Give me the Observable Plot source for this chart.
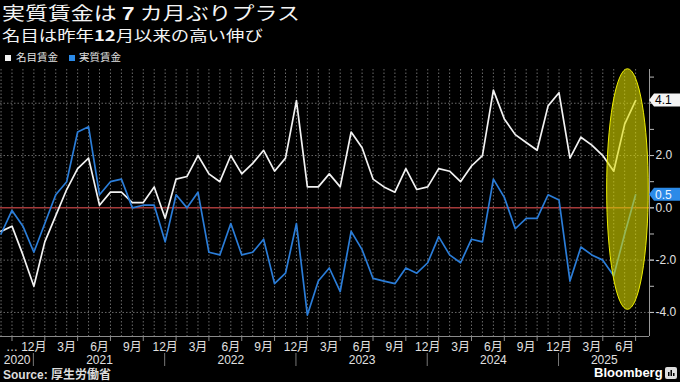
<!DOCTYPE html>
<html><head><meta charset="utf-8">
<script src="https://cdn.jsdelivr.net/npm/d3@7"></script>
<script src="https://cdn.jsdelivr.net/npm/@observablehq/plot@0.6"></script>
<style>
html,body{margin:0;padding:0;background:#000;}
#wrap{position:relative;width:680px;height:382px;overflow:hidden;background:#000;font-family:"Noto Sans CJK JP","Noto Sans",sans-serif;}
.title{position:absolute;left:2px;top:1px;font-size:18.5px;line-height:22px;transform:scaleX(1.24);transform-origin:0 0;white-space:nowrap;color:#f4f4f4;}
.title b{font-family:"Liberation Sans","Noto Sans CJK JP",sans-serif;font-weight:bold;}
.sub{position:absolute;left:2px;top:26px;font-size:14.6px;line-height:18px;transform:scaleX(1.26);transform-origin:0 0;white-space:nowrap;color:#f4f4f4;}
.sub b{font-weight:bold;}
.lg{position:absolute;top:51px;font-size:10.5px;line-height:12px;white-space:nowrap;color:#e0e0e0;}
.sw{position:absolute;top:55px;width:6px;height:6px;}
#chart{position:absolute;left:0;top:64px;}
.src{position:absolute;left:3px;top:368px;font-size:12px;line-height:14px;font-weight:bold;color:#dcdcdc;font-family:"Liberation Sans","Noto Sans CJK JP",sans-serif;white-space:nowrap;}
.bb{position:absolute;left:594px;top:366px;font-size:13px;line-height:14px;font-weight:bold;color:#fff;font-family:"Liberation Sans",Arial,sans-serif;}
.icon{position:absolute;left:665px;top:367px;display:block;}
</style>
</head><body>
<div id="wrap">
  <div class="title">実質賃金は <b>7</b> カ月ぶりプラス</div>
  <div class="sub">名目は昨年<b>12</b>月以来の高い伸び</div>
  <div class="sw" style="left:5px;background:#f2f2f2"></div>
  <div class="lg" style="left:16px">名目賃金</div>
  <div class="sw" style="left:69px;background:#2b8ae8"></div>
  <div class="lg" style="left:79px">実質賃金</div>
  <div id="chart"></div>
  <div class="src">Source: 厚生労働省</div>
  <div class="bb">Bloomberg</div>
  <svg class="icon" width="12" height="12" viewBox="0 0 12 12"><rect x="0" y="0" width="12" height="12" rx="2" fill="#ddd"/><rect x="3" y="5" width="1.5" height="4" fill="#000"/><rect x="5.5" y="3" width="1.5" height="6" fill="#000"/><rect x="8" y="6" width="1.5" height="3" fill="#000"/></svg>
</div>
<script>
// ---- data (YoY %) ----
const months = [
  "2020-09","2020-10","2020-11","2020-12",
  "2021-01","2021-02","2021-03","2021-04","2021-05","2021-06","2021-07","2021-08","2021-09","2021-10","2021-11","2021-12",
  "2022-01","2022-02","2022-03","2022-04","2022-05","2022-06","2022-07","2022-08","2022-09","2022-10","2022-11","2022-12",
  "2023-01","2023-02","2023-03","2023-04","2023-05","2023-06","2023-07","2023-08","2023-09","2023-10","2023-11","2023-12",
  "2024-01","2024-02","2024-03","2024-04","2024-05","2024-06","2024-07","2024-08","2024-09","2024-10","2024-11","2024-12",
  "2025-01","2025-02","2025-03","2025-04","2025-05","2025-06","2025-07"
];
const nominal = [
  -0.9,-0.7,-1.8,-3.0,
  -1.3,-0.3,0.7,1.5,1.9,0.1,0.6,0.6,0.2,0.2,0.8,-0.4,
  1.1,1.2,2.0,1.3,1.0,2.0,1.3,1.7,2.2,1.4,1.9,4.1,
  0.8,0.8,1.3,0.8,2.9,2.3,1.1,0.8,0.6,1.5,0.7,0.8,
  1.5,1.4,1.0,1.6,2.0,4.5,3.4,2.8,2.5,2.2,3.9,4.4,
  1.9,2.7,2.4,2.0,1.4,3.2,4.1
];
const real = [
  -1.0,-0.1,-0.7,-1.7,
  -0.6,0.5,1.0,2.9,3.1,0.5,1.0,1.1,0.0,0.1,0.1,-1.3,
  0.5,0.0,0.6,-1.7,-1.8,-0.6,-1.8,-1.7,-1.2,-2.9,-2.5,-0.6,
  -4.1,-2.8,-2.3,-3.2,-0.9,-1.6,-2.7,-2.8,-2.9,-2.3,-2.5,-2.1,
  -1.1,-1.8,-2.1,-1.2,-1.3,1.1,0.4,-0.8,-0.4,-0.4,0.5,0.3,
  -2.8,-1.5,-1.8,-2.0,-2.6,-1.0,0.5
];
const seriesNames = ["名目賃金", "実質賃金"];
const yLabelValues = [-4, -2, 0, 2];      // 4.0 is hidden behind the last-value label
const yTickValues = [-5, -4, -3, -2, -1, 0, 1, 2, 3, 4, 5];
const gridValues = [-4, -2, 2, 4];
// highlighted period (ellipse) in month-index / value units
const highlightX = [55.4, 59.2];
const highlightY = [-3.9, 5.3];

const WHITE = "#f2f2f2", BLUE = "#2b7dd8";
const data = months.map((m, i) => ({i, m, nominal: nominal[i], real: real[i]}));
const idx = data.map(d => d.i);
const xDomain = [-0.05, 59.27];
const yDomain = [-4.92, 5.29];

const monthTicks = idx.filter(i => i > 0 && i % 3 === 0);
const quarterTicks = idx.filter(i => i % 3 === 1);
const decIdx = idx.filter(i => months[i].endsWith("-12"));
const years = [...new Set(months.map(m => m.slice(0, 4)))];
const yearPos = years.map(y => {
  const first = months.findIndex(m => m.startsWith(y));
  const lastDec = months.indexOf(y + "-12");
  const left = first === 0 ? xDomain[0] : first - 1;
  const right = lastDec >= 0 ? lastDec : xDomain[1];
  return (left + right) / 2;
});
const yearAt = new Map(yearPos.map((p, k) => [p, years[k]]));
const monthLabel = i => (+months[i].slice(5)) + "月";

const ax = {label: null, anchor: "bottom", tickSize: 0, fill: "#e0e0e0", fontSize: 12};
const plot = Plot.plot({
  width: 680, height: 304,
  marginLeft: 0, marginRight: 31, marginTop: 5, marginBottom: 32,
  style: {background: "#000", color: "#e0e0e0", fontFamily: "'Liberation Sans','Noto Sans CJK JP',sans-serif", fontSize: "12px", overflow: "visible"},
  x: {type: "linear", domain: xDomain, axis: null, label: null},
  y: {domain: yDomain, axis: null, label: null},
  marks: [
    Plot.ruleX(idx, {stroke: "#6a6a6a", strokeDasharray: "1.5,2", strokeWidth: 1}),
    Plot.ruleY(gridValues, {stroke: "#6a6a6a", strokeDasharray: "1.5,2", strokeWidth: 1}),
    Plot.ruleY([0], {stroke: "#a53a3a", strokeWidth: 1.5}),
    Plot.line(data, {x: "i", y: "nominal", stroke: WHITE, strokeWidth: 1.7}),
    Plot.line(data, {x: "i", y: "real", stroke: BLUE, strokeWidth: 1.7}),
    Plot.ruleY([yDomain[0]], {stroke: "#8a8a8a", strokeWidth: 1}),
    Plot.ruleX([xDomain[1]], {stroke: "#9a9a9a", strokeWidth: 1}),
    Plot.axisY(yTickValues.filter(v => v > yDomain[0] && v < yDomain[1]), {label: null, anchor: "right", tickSize: 4, tickFormat: () => "", stroke: "#bbb"}),
    Plot.axisY(yLabelValues, {label: null, anchor: "right", tickSize: 4, tickPadding: 2, tickFormat: d => d.toFixed(1), stroke: "#bbb", fill: "#e0e0e0", fontSize: 12}),
    Plot.axisX(quarterTicks, {label: null, anchor: "bottom", tickSize: 5, tickFormat: () => "", stroke: "#8a8a8a"}),
    Plot.axisX(monthTicks, {...ax, tickPadding: 5.5, tickFormat: monthLabel}),
    Plot.axisX([1], {...ax, tickPadding: 5.5, tickFormat: () => "…"}),
    Plot.axisX(yearPos, {...ax, tickPadding: 18.5, tickFormat: d => yearAt.get(d)})
  ]
});
document.getElementById("chart").appendChild(plot);

// ---- overlays positioned with Plot's own scales ----
const sx = plot.scale("x"), sy = plot.scale("y");
const X = v => sx.apply(v), Y = v => sy.apply(v);
const svg = d3.select(plot);
const bottom = Y(yDomain[0]);

// year separators
svg.append("g").selectAll("line").data(decIdx).join("line")
  .attr("x1", d => X(d)).attr("x2", d => X(d))
  .attr("y1", bottom + 17).attr("y2", bottom + 30)
  .attr("stroke", "#777").attr("stroke-width", 1);

// highlight ellipse
const cx = (X(highlightX[0]) + X(highlightX[1])) / 2;
const cy = (Y(highlightY[0]) + Y(highlightY[1])) / 2;
svg.append("ellipse")
  .attr("cx", cx).attr("cy", cy)
  .attr("rx", Math.abs(X(highlightX[1]) - X(highlightX[0])) / 2)
  .attr("ry", Math.abs(Y(highlightY[0]) - Y(highlightY[1])) / 2)
  .attr("fill", "#dcdc00").attr("fill-opacity", 0.6)
  .attr("stroke", "#f0f000").attr("stroke-width", 1);

// last-value labels
const lastI = months.length - 1;
const labels = [
  {v: nominal[lastI], fill: "#f4f4f4", text: "#000"},
  {v: real[lastI], fill: "#2b8ae8", text: "#eef5ff"}
];
const x0 = X(xDomain[1]), x1 = 680;
const g = svg.append("g");
labels.forEach(l => {
  const yc = Y(l.v), h = 6.5;
  g.append("path")
    .attr("d", `M${x0},${yc} L${x0 + 5},${yc - h} L${x1},${yc - h} L${x1},${yc + h} L${x0 + 5},${yc + h} Z`)
    .attr("fill", l.fill);
  g.append("text").attr("x", x0 + 6).attr("y", yc).attr("dy", "0.36em")
    .attr("text-anchor", "start")
    .attr("fill", l.text).attr("font-size", 12)
    .attr("font-family", "'Liberation Sans',Arial,sans-serif")
    .text(l.v.toFixed(1));
});
</script>
</body></html>
